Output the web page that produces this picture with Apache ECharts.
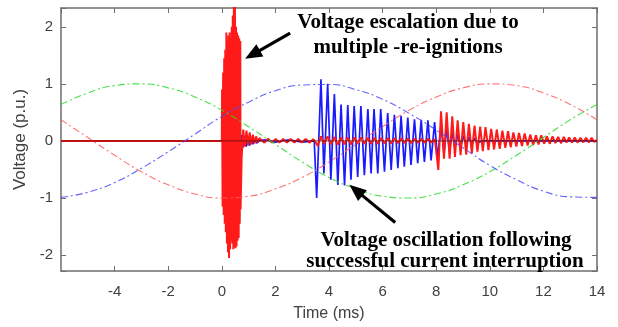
<!DOCTYPE html>
<html>
<head>
<meta charset="utf-8">
<script src="https://cdn.jsdelivr.net/npm/echarts@6/dist/echarts.min.js"></script>
<style>
  html, body { margin: 0; padding: 0; background: #fff; }
  #chart { width: 618px; height: 327px; }
</style>
</head>
<body>
<div id="chart"></div>
<script>
// time axis (ms) and tick labels
var xTicks = [-4, -2, 0, 2, 4, 6, 8, 10, 12, 14];
var yTicks = [-2, -1, 0, 1, 2];

// source voltages (dash-dot), read every 1 ms from -6 to 14
var srcTime = [-6, -5, -4, -3, -2, -1, 0, 1, 2, 3, 4, 5, 6, 7, 8, 9, 10, 11, 12, 13, 14];
var srcGreen = [0.64, 0.84, 0.97, 1.0, 0.93, 0.77, 0.54, 0.25, -0.06, -0.37, -0.64, -0.84, -0.97, -1.0, -0.93, -0.77, -0.54, -0.25, 0.06, 0.37, 0.64];
var srcBlue = [-0.99, -0.9, -0.73, -0.48, -0.19, 0.12, 0.43, 0.68, 0.88, 0.98, 0.99, 0.9, 0.73, 0.48, 0.19, -0.12, -0.43, -0.68, -0.88, -0.98, -0.99];
var srcRed = [0.37, 0.06, -0.25, -0.54, -0.77, -0.93, -1.0, -0.97, -0.84, -0.64, -0.37, -0.06, 0.25, 0.54, 0.77, 0.93, 1.0, 0.97, 0.84, 0.64, 0.37];

// red phase: flat, re-ignition burst, ringing, small wiggle, post-interruption oscillation
var redFlat = [[-6, 0], [0, 0]];
var redBurst = [[0.01, 0.9], [0.03, -1.15], [0.05, 1.2], [0.07, -1.3], [0.09, 1.45], [0.11, -1.45], [0.13, 1.6], [0.15, -1.6],
  [0.17, 1.9], [0.19, -1.8], [0.21, 1.75], [0.23, -1.95], [0.25, 1.85], [0.27, -2.05], [0.29, 1.9], [0.31, -1.9],
  [0.33, 1.8], [0.35, -1.75], [0.37, 2.0], [0.39, -1.8], [0.41, 2.2], [0.43, -1.9], [0.45, 2.4], [0.47, -1.85],
  [0.49, 2.4], [0.51, -1.88], [0.53, 2.0], [0.55, -1.85], [0.57, 1.9], [0.59, -1.75], [0.61, 1.85], [0.63, -1.7],
  [0.65, 1.8], [0.67, -1.45], [0.69, 1.75], [0.7, -1.2]];
var redRing = [[0.74, -0.3], [0.8, 0.2], [0.86, -0.1], [0.92, 0.18], [0.98, -0.08], [1.04, 0.15], [1.1, -0.06],
  [1.16, 0.11], [1.22, -0.04], [1.28, 0.08], [1.34, -0.03], [1.4, 0.05]];
var redWiggle = [[1.45, 0.04], [1.59, -0.03], [1.73, 0.04], [1.87, -0.03], [2.01, 0.035], [2.15, -0.03], [2.29, 0.035],
  [2.43, -0.03], [2.57, 0.035], [2.71, -0.03], [2.85, 0.035], [2.99, -0.03], [3.13, 0.035], [3.27, -0.03], [3.41, 0.03],
  [3.5, -0.02], [3.58, -0.09], [3.7, 0.08], [3.82, -0.05], [3.95, 0.08], [4.07, -0.06], [4.2, 0.07], [4.32, -0.07],
  [4.45, 0.06], [4.57, -0.06], [4.7, 0.06], [4.82, -0.06], [4.95, 0.06], [5.07, -0.05], [5.2, 0.06], [5.32, -0.05],
  [5.45, 0.055], [5.57, -0.05], [5.7, 0.055], [5.82, -0.05], [5.95, 0.05], [6.07, -0.045], [6.2, 0.05], [6.32, -0.045],
  [6.45, 0.05], [6.57, -0.04], [6.7, 0.045], [6.82, -0.04], [6.95, 0.045], [7.07, -0.04], [7.2, 0.04], [7.32, -0.035],
  [7.45, 0.04], [7.57, -0.035], [7.7, 0.04], [7.82, -0.03], [7.95, 0.03], [8.0, 0.02]];
var redOsc = [[8.08, -0.51], [8.18, 0.52], [8.29, -0.31], [8.39, 0.5], [8.5, -0.31], [8.6, 0.43], [8.7, -0.28],
  [8.8, 0.36], [8.91, -0.25], [9.01, 0.33], [9.12, -0.24], [9.22, 0.3], [9.33, -0.22], [9.43, 0.27], [9.54, -0.19],
  [9.64, 0.25], [9.74, -0.18], [9.84, 0.24], [9.95, -0.16], [10.05, 0.21], [10.16, -0.15], [10.26, 0.2], [10.37, -0.14],
  [10.47, 0.18], [10.58, -0.12], [10.68, 0.17], [10.78, -0.11], [10.88, 0.15], [10.99, -0.1], [11.09, 0.14], [11.2, -0.09],
  [11.3, 0.13], [11.41, -0.08], [11.51, 0.11], [11.62, -0.07], [11.72, 0.1], [11.82, -0.06], [11.92, 0.1], [12.03, -0.05],
  [12.13, 0.08], [12.24, -0.05], [12.34, 0.08], [12.45, -0.04], [12.55, 0.07], [12.66, -0.04], [12.76, 0.07], [12.86, -0.03],
  [12.96, 0.06], [13.07, -0.03], [13.17, 0.06], [13.28, -0.03], [13.38, 0.055], [13.49, -0.025], [13.59, 0.055],
  [13.7, -0.025], [13.8, 0.055], [13.9, -0.02], [14.0, 0.02]];

// blue phase: flat, small ringing, then oscillation after interruption
var blueFlat = [[-6, 0], [0.62, 0]];
var blueRing = [[0.65, -0.15], [0.72, 0.1], [0.78, -0.12], [0.85, 0.08], [0.91, -0.1], [0.98, 0.06], [1.04, -0.08],
  [1.1, 0.04], [1.17, -0.06], [1.23, 0.03], [1.3, -0.04], [1.4, 0.0], [1.6, 0.02], [2.0, -0.02], [2.5, 0.02],
  [3.0, -0.02], [3.45, 0.0]];
var blueOsc = [[3.54, -1.0], [3.7, 1.08], [3.81, -0.57], [3.95, 1.0], [4.07, -0.68], [4.2, 0.82], [4.33, -0.77],
  [4.45, 0.64], [4.58, -0.78], [4.7, 0.63], [4.82, -0.68], [4.94, 0.61], [5.07, -0.63], [5.19, 0.61], [5.32, -0.6],
  [5.45, 0.56], [5.57, -0.57], [5.68, 0.56], [5.82, -0.57], [5.93, 0.56], [6.07, -0.54], [6.19, 0.49], [6.32, -0.51],
  [6.44, 0.46], [6.57, -0.48], [6.69, 0.44], [6.81, -0.45], [6.94, 0.41], [7.06, -0.42], [7.19, 0.38], [7.31, -0.39],
  [7.44, 0.37], [7.56, -0.37], [7.69, 0.36], [7.81, -0.34], [7.94, 0.33], [8.05, -0.3], [8.18, 0.26], [8.29, -0.22],
  [8.39, 0.2], [8.5, -0.18], [8.6, 0.16], [8.7, -0.14], [8.81, 0.12], [8.91, -0.1], [9.02, 0.09], [9.12, -0.08],
  [9.22, 0.07], [9.33, -0.06], [9.43, 0.05], [9.54, -0.04], [9.7, 0.0], [14, 0]];

var zeroLine = [[-6, 0], [14, 0]];

var chart = echarts.init(document.getElementById('chart'));

function zip(xs, ys) {
  return xs.map(function (x, i) { return [x, ys[i]]; });
}

var axisColor = '#6e6e6e';
var labelColor = '#404040';
var font = 'Liberation Sans';

function dashDot(color, data) {
  return {
    type: 'line', data: data, smooth: true, symbol: 'none', z: 5,
    lineStyle: { color: color, width: 1.1, type: [7, 3, 2, 3] }
  };
}

function boxAxis(extra) {
  var base = {
    type: 'value',
    axisLine: { show: true, onZero: false, lineStyle: { color: axisColor, width: 1.5 } },
    axisTick: { inside: true, length: 5, lineStyle: { color: axisColor } },
    axisLabel: { show: false },
    splitLine: { show: false }
  };
  return Object.assign(base, extra);
}

var option = {
  animation: false,
  grid: { left: 61, right: 21, top: 8, bottom: 54 },
  xAxis: [
    boxAxis({
      min: -6, max: 14, interval: 2,
      name: 'Time (ms)', nameLocation: 'middle', nameGap: 35,
      nameTextStyle: { fontFamily: font, fontSize: 16, color: labelColor },
      axisLabel: {
        showMinLabel: false, fontFamily: font, fontSize: 15, color: labelColor, margin: 13,
        formatter: function (v) { return xTicks.indexOf(v) >= 0 ? String(v) : ''; }
      }
    }),
    boxAxis({ min: -6, max: 14, interval: 2, position: 'top' })
  ],
  yAxis: [
    boxAxis({
      min: -2.28, max: 2.33,
      name: 'Voltage (p.u.)', nameLocation: 'middle', nameGap: 20,
      nameTextStyle: { fontFamily: font, fontSize: 17, color: labelColor },
      axisLabel: {
        fontFamily: font, fontSize: 15, color: labelColor, margin: 8,
        formatter: function (v) { return yTicks.indexOf(v) >= 0 ? String(v) : ''; }
      }
    }),
    boxAxis({ min: -2.28, max: 2.33, position: 'right' })
  ],
  series: [
    {
      type: 'line', symbol: 'none', z: 2,
      data: blueFlat.concat(blueRing, blueOsc),
      lineStyle: { color: '#1a1aff', width: 1.7 }
    },
    {
      type: 'line', symbol: 'none', z: 3,
      data: redFlat.concat(redBurst, redRing, redWiggle, redOsc),
      lineStyle: { color: '#ff1a1a', width: 2 }
    },
    {
      type: 'line', symbol: 'none', z: 4, data: zeroLine,
      lineStyle: { color: '#330000', width: 0.8, opacity: 0.8 }
    },
    dashDot('rgba(40,220,40,0.85)', zip(srcTime, srcGreen)),
    dashDot('rgba(70,70,255,0.85)', zip(srcTime, srcBlue)),
    dashDot('rgba(255,90,90,0.85)', zip(srcTime, srcRed))
  ]
};
chart.setOption(option);

// annotations: arrows point at data features
function arrow(tail, tip) {
  var a = chart.convertToPixel({ gridIndex: 0 }, tail);
  var b = chart.convertToPixel({ gridIndex: 0 }, tip);
  var dx = b[0] - a[0], dy = b[1] - a[1];
  var len = Math.sqrt(dx * dx + dy * dy);
  var ux = dx / len, uy = dy / len, hl = 17, hw = 7;
  var bx = b[0] - ux * hl, by = b[1] - uy * hl;
  return [
    { type: 'line', z: 100, shape: { x1: a[0], y1: a[1], x2: bx + ux * 2, y2: by + uy * 2 }, style: { stroke: '#000', lineWidth: 3.2 } },
    { type: 'polygon', z: 100, shape: { points: [[b[0], b[1]], [bx - uy * hw, by + ux * hw], [bx + uy * hw, by - ux * hw]] }, style: { fill: '#000' } }
  ];
}

function note(x, y, text) {
  return {
    type: 'text', z: 100, x: x, y: y,
    style: { text: text, fill: '#000', font: 'bold 21px "Liberation Serif"', align: 'center', verticalAlign: 'middle' }
  };
}

chart.setOption({
  graphic: [].concat(
    arrow([2.55, 1.89], [0.87, 1.44]),
    arrow([6.47, -1.43], [4.76, -0.77]),
    [note(408, 23, 'Voltage escalation due to'),
     note(408, 48, 'multiple -re-ignitions'),
     note(446, 241, 'Voltage oscillation following'),
     note(445, 262, 'successful current interruption')]
  )
});
</script>
</body>
</html>
